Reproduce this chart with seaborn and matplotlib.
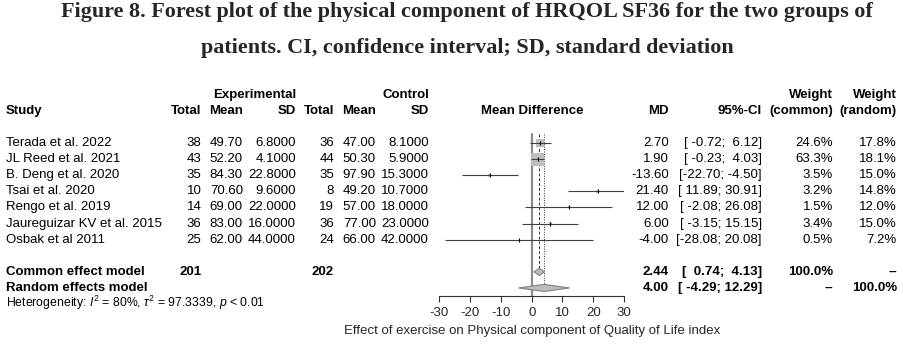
import numpy as np
import pandas as pd
import matplotlib
matplotlib.use("Agg")
import matplotlib.pyplot as plt
import matplotlib.transforms as mtransforms
import seaborn as sns

# ---------------- data ----------------
studies = ["Terada et al. 2022", "JL Reed et al. 2021", "B. Deng et al. 2020",
           "Tsai et al. 2020", "Rengo et al. 2019", "Jaureguizar KV et al. 2015",
           "Osbak et al 2011"]
exp_n = [38, 43, 35, 10, 14, 36, 25]
exp_mean = [49.70, 52.20, 84.30, 70.60, 69.00, 83.00, 62.00]
exp_sd = [6.8, 4.1, 22.8, 9.6, 22.0, 16.0, 44.0]
ctl_n = [36, 44, 35, 8, 19, 36, 24]
ctl_mean = [47.00, 50.30, 97.90, 49.20, 57.00, 77.00, 66.00]
ctl_sd = [8.1, 5.9, 15.3, 10.7, 18.0, 23.0, 42.0]
md = [2.70, 1.90, -13.60, 21.40, 12.00, 6.00, -4.00]
ci_lo = [-0.72, -0.23, -22.70, 11.89, -2.08, -3.15, -28.08]
ci_hi = [6.12, 4.03, -4.50, 30.91, 26.08, 15.15, 20.08]
w_common = [24.6, 63.3, 3.5, 3.2, 1.5, 3.4, 0.5]
w_random = [17.8, 18.1, 15.0, 14.8, 12.0, 15.0, 7.2]

summary_labels = ["Common effect model", "Random effects model"]
summary_md = [2.44, 4.00]
summary_lo = [0.74, -4.29]
summary_hi = [4.13, 12.29]
summary_wc = ["100.0%", "--"]
summary_wr = ["--", "100.0%"]
total_exp = 201
total_ctl = 202
heterogeneity = r"Heterogeneity: $\mathit{I}^2$ = 80%, $\tau^2$ = 97.3339, $\mathit{p}$ < 0.01"
xticks = [-30, -20, -10, 0, 10, 20, 30]
xlabel = "Effect of exercise on Physical component of Quality of Life index"
title1 = "Figure 8. Forest plot of the physical component of HRQOL SF36 for the two groups of"
title2 = "patients. CI, confidence interval; SD, standard deviation"

# ---------------- style ----------------
sns.set_style("white")
plt.rcParams["font.family"] = ["Liberation Sans", "DejaVu Sans"]
plt.rcParams["mathtext.fontset"] = "custom"
plt.rcParams["mathtext.rm"] = "Liberation Sans"
plt.rcParams["mathtext.it"] = "Liberation Sans:italic"
plt.rcParams["mathtext.bf"] = "Liberation Sans:bold"

W, H = 904, 346
fig = plt.figure(figsize=(W / 100, H / 100), dpi=100)
fig.patch.set_facecolor("white")

# forest axes: x from -30..30 spans pixel 439.5..624 ; rows
row_px = 16.1
axis_px = 296
ax_left = 439.5
ax_right = 624
y_bottom = 9.5
y_top = -3.5
ax_h_px = (y_bottom - y_top) * row_px
ax = fig.add_axes([ax_left / W, (H - axis_px) / H, (ax_right - ax_left) / W, ax_h_px / H])
ax.set_xlim(-30, 30)
ax.set_ylim(y_bottom, y_top)
for s in ["top", "right", "left"]:
    ax.spines[s].set_visible(False)
ax.spines["bottom"].set_color("#333333")
ax.spines["bottom"].set_linewidth(0.8)
ax.set_yticks([])
ax.set_xticks(xticks)
ax.set_xticklabels([str(t) for t in xticks], fontsize=9.5)
ax.tick_params(axis="x", bottom=True, direction="out", length=4.5, width=0.8,
               color="#333333", pad=3.5)
ax.set_xlabel(xlabel, fontsize=9.5, labelpad=4)
ax.patch.set_alpha(0)

rows = np.arange(len(studies))
sum_rows = [8, 9]

# reference lines
ax.plot([0, 0], [-0.57, y_bottom], color="#8c8c8c", lw=1.6, zorder=1)
ax.plot([summary_md[0]] * 2, [-0.57, sum_rows[0] - 0.2], color="#333333", lw=0.7,
        ls=(0, (3, 2)), zorder=1)
ax.plot([summary_md[1]] * 2, [-0.57, sum_rows[1] - 0.2], color="#333333", lw=0.7,
        ls=(0, (1, 1.5)), zorder=1)

# squares (area proportional to common weight)
df = pd.DataFrame({"md": md, "row": rows, "w": w_common})
k = 1.4
sns.scatterplot(data=df, x="md", y="row", size="w", sizes=(min(w_common) * k, max(w_common) * k),
                size_norm=(min(w_common), max(w_common)), marker="s", color="#bebebe",
                edgecolor="none", linewidth=0, legend=False, ax=ax, zorder=2)
# CI lines
ax.hlines(rows, ci_lo, ci_hi, color="#404040", lw=0.8, zorder=3)
ax.scatter(md, rows, marker="|", s=9, color="black", linewidths=0.8, zorder=4)

# diamonds
dh = 0.22
for r, m, lo, hi in zip(sum_rows, summary_md, summary_lo, summary_hi):
    ax.fill([lo, m, hi, m], [r, r - dh, r, r + dh], facecolor="#bebebe",
            edgecolor="#808080", lw=0.8, zorder=3)
ax.set_ylabel("")

# ---------------- text columns ----------------
tr = mtransforms.blended_transform_factory(fig.transFigure, ax.transData)
fs = 9.5

def put(xpx, row, s, ha="right", bold=False, size=fs):
    ax.text(xpx / W, row, s, transform=tr, ha=ha, va="center", fontsize=size,
            fontweight="bold" if bold else "normal", clip_on=False, color="black")

cols = {"en": 201.5, "em": 243, "es": 296, "cn": 334, "cm": 376, "cs": 429,
        "md": 669, "ci": 762, "wc": 833, "wr": 897}

# headers
put(296, -3, "Experimental", bold=True)
put(429, -3, "Control", bold=True)
put(833, -3, "Weight", bold=True)
put(897, -3, "Weight", bold=True)
put(6, -2, "Study", ha="left", bold=True)
put(cols["en"], -2, "Total", bold=True)
put(cols["em"], -2, "Mean", bold=True)
put(cols["es"], -2, "SD", bold=True)
put(cols["cn"], -2, "Total", bold=True)
put(cols["cm"], -2, "Mean", bold=True)
put(cols["cs"], -2, "SD", bold=True)
put(532, -2, "Mean Difference", ha="center", bold=True)
put(cols["md"], -2, "MD", bold=True)
put(cols["ci"], -2, "95%-CI", bold=True)
put(cols["wc"], -2, "(common)", bold=True)
put(cols["wr"], -2, "(random)", bold=True)

for i, r in enumerate(rows):
    put(6, r, studies[i], ha="left")
    put(cols["en"], r, f"{exp_n[i]}")
    put(cols["em"], r, f"{exp_mean[i]:.2f}")
    put(cols["es"], r, f"{exp_sd[i]:.4f}")
    put(cols["cn"], r, f"{ctl_n[i]}")
    put(cols["cm"], r, f"{ctl_mean[i]:.2f}")
    put(cols["cs"], r, f"{ctl_sd[i]:.4f}")
    put(cols["md"], r, f"{md[i]:.2f}")
    put(cols["ci"], r, f"[{ci_lo[i]:6.2f}; {ci_hi[i]:5.2f}]")
    put(cols["wc"], r, f"{w_common[i]:.1f}%")
    put(cols["wr"], r, f"{w_random[i]:.1f}%")

for j, r in enumerate(sum_rows):
    put(6, r, summary_labels[j], ha="left", bold=True)
    put(cols["md"], r, f"{summary_md[j]:.2f}", bold=True)
    put(cols["ci"], r, f"[{summary_lo[j]:6.2f}; {summary_hi[j]:5.2f}]", bold=True)
    put(cols["wc"], r, summary_wc[j], bold=True)
    put(cols["wr"], r, summary_wr[j], bold=True)
put(cols["en"], sum_rows[0], f"{total_exp}", bold=True)
put(cols["cn"], sum_rows[0], f"{total_ctl}", bold=True)
put(6, 9.95, heterogeneity, ha="left", size=8.8)

# ---------------- title ----------------
tfam = ["Liberation Serif", "DejaVu Serif"]
fig.text(467 / W, 1 - 17 / H, title1, ha="center", va="baseline", fontsize=15.9,
         fontweight="bold", family=tfam)
fig.text(467 / W, 1 - 53 / H, title2, ha="center", va="baseline", fontsize=15.9,
         fontweight="bold", family=tfam)

fig.savefig("out.png", dpi=100, facecolor="white")
